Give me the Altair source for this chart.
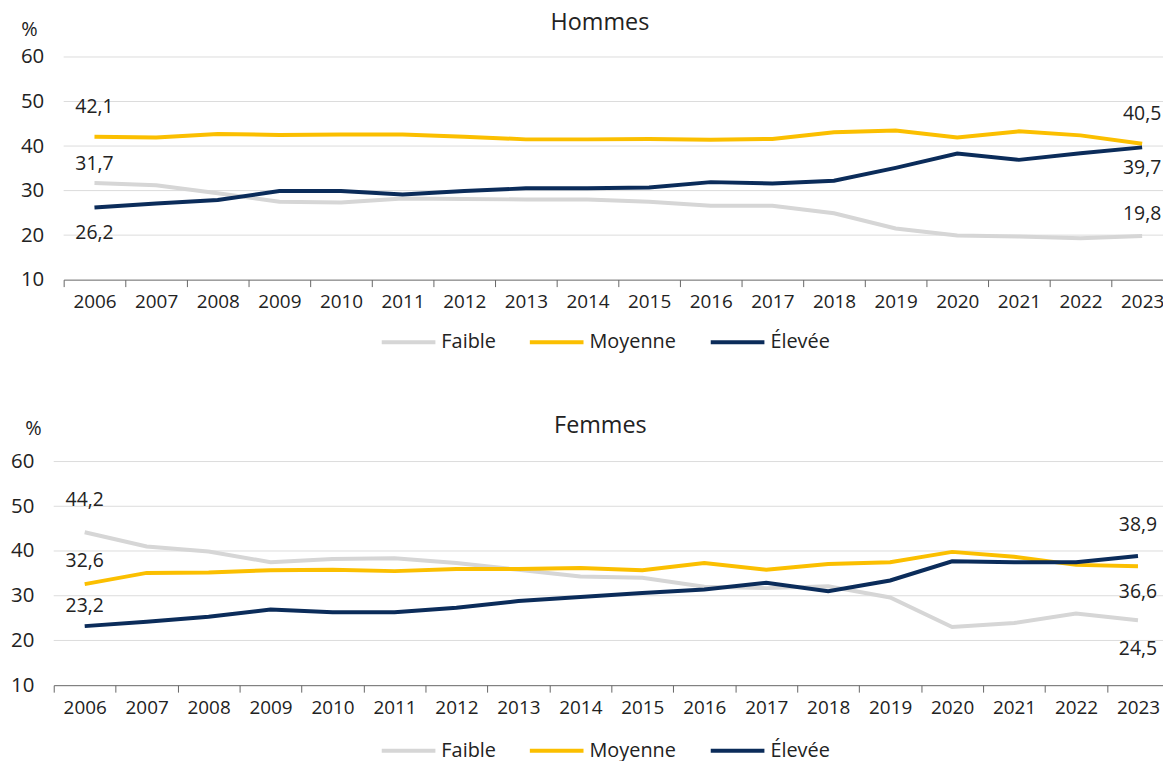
import altair as alt
import pandas as pd

# ---------------- data ----------------
years = ["2006", "2007", "2008", "2009", "2010", "2011", "2012", "2013", "2014",
         "2015", "2016", "2017", "2018", "2019", "2020", "2021", "2022", "2023"]
series = ["Faible", "Moyenne", "Élevée"]

hommes_faible = [31.7, 31.2, 29.4, 27.5, 27.3, 28.2, 28.1, 28.0, 28.0, 27.5, 26.6, 26.6, 24.9, 21.5, 19.9, 19.7, 19.3, 19.8]
hommes_moyenne = [42.1, 41.9, 42.7, 42.5, 42.6, 42.6, 42.1, 41.5, 41.5, 41.6, 41.4, 41.6, 43.1, 43.5, 41.9, 43.3, 42.4, 40.5]
hommes_elevee = [26.2, 27.1, 27.9, 29.9, 29.9, 29.1, 29.9, 30.5, 30.5, 30.7, 31.9, 31.6, 32.2, 35.1, 38.3, 36.9, 38.4, 39.7]

femmes_faible = [44.2, 41.0, 39.9, 37.5, 38.2, 38.4, 37.3, 35.8, 34.3, 34.0, 32.0, 31.7, 32.1, 29.6, 23.0, 23.9, 26.0, 24.5]
femmes_moyenne = [32.6, 35.1, 35.2, 35.7, 35.8, 35.5, 36.0, 36.0, 36.2, 35.7, 37.3, 35.8, 37.1, 37.5, 39.8, 38.7, 36.9, 36.6]
femmes_elevee = [23.2, 24.2, 25.3, 26.9, 26.3, 26.3, 27.3, 28.8, 29.7, 30.6, 31.4, 32.9, 31.0, 33.4, 37.7, 37.5, 37.5, 38.9]

y_ticks = [10, 20, 30, 40, 50, 60]
grid_ticks = [20, 30, 40, 50, 60]

# ---------------- style ----------------
COLORS = ["#d6d6d6", "#fbbf00", "#0b2c5a"]
FONT = "Open Sans"
TXT = "#222222"

# which end values are annotated, and their vertical offsets (style only)
top_labels = [("Moyenne", "2006", -30), ("Faible", "2006", -19), ("Élevée", "2006", 26),
              ("Moyenne", "2023", -30), ("Élevée", "2023", 21), ("Faible", "2023", -22)]
bot_labels = [("Faible", "2006", -32), ("Moyenne", "2006", -23), ("Élevée", "2006", -20),
              ("Élevée", "2023", -31), ("Moyenne", "2023", 26), ("Faible", "2023", 29)]


def frame(f, m, e):
    rows = []
    for name, vals in zip(series, [f, m, e]):
        for yr, v in zip(years, vals):
            rows.append({"year": yr, "serie": name, "value": v})
    return pd.DataFrame(rows)


def panel(title, df, labels, width, height, x_range, y_offset, title_dx, title_dy,
          pct_x, pct_y, legend_x, legend_y):
    x = alt.X("year:O", scale=alt.Scale(type="band", paddingInner=0, paddingOuter=0, range=x_range),
              axis=alt.Axis(title=None, tickBand="extent", labelAngle=0, labelFont=FONT,
                            labelFontSize=19, labelColor=TXT, domainColor="#666666",
                            tickColor="#666666", tickSize=7, labelPadding=6, grid=False))
    y_scale = alt.Scale(domain=[10, 60], nice=False, zero=False)
    y_axis = alt.Axis(values=y_ticks, title="%", titleAngle=0, titleX=pct_x, titleY=pct_y,
                      titleAlign="center", titleBaseline="middle", titleFont=FONT,
                      titleFontSize=20, titleFontWeight="normal", titleColor=TXT,
                      labelFont=FONT, labelFontSize=20.5, labelColor=TXT, labelPadding=20,
                      offset=y_offset, domain=False, ticks=False, grid=False)
    color = alt.Color("serie:N", scale=alt.Scale(domain=series, range=COLORS),
                      sort=series,
                      legend=alt.Legend(title=None, orient="none", legendX=legend_x, legendY=legend_y,
                                        direction="horizontal", symbolType="stroke",
                                        symbolSize=2916, symbolStrokeWidth=4, labelFont=FONT,
                                        labelFontSize=20, labelColor=TXT, columnPadding=26,
                                        labelOffset=4))
    # horizontal gridlines, positioned through the y scale
    grid = alt.Chart(pd.DataFrame({"g": grid_ticks})).mark_rule(color="#dcdcdc", strokeWidth=1).encode(
        y=alt.Y("g:Q", scale=y_scale, axis=y_axis, title="%"),
        x=alt.value(x_range[0]), x2=alt.value(width),
    )
    base = alt.Chart(df)
    lines = base.mark_line(strokeWidth=4).encode(
        x=x, y=alt.Y("value:Q", scale=y_scale, axis=y_axis, title="%"), color=color,
        order=alt.Order("year:O"),
        detail="serie:N",
    )
    layers = [grid]
    # draw order: Faible, Moyenne, Élevée
    for s in series:
        layers.append(lines.transform_filter(alt.datum.serie == s))
    for s, yr, dy in labels:
        layers.append(
            base.transform_filter((alt.datum.serie == s) & (alt.datum.year == yr))
            .transform_calculate(lbl="replace(format(datum.value, '.1f'), '.', ',')")
            .mark_text(dy=dy, font=FONT, fontSize=19.5, color=TXT, align="center", baseline="middle")
            .encode(x=alt.X("year:O"), y=alt.Y("value:Q"), text="lbl:N")
        )
    return alt.layer(*layers).properties(
        width=width, height=height,
        title=alt.TitleParams(title, font=FONT, fontSize=23.5, fontWeight="normal", color=TXT,
                              anchor="middle", dx=title_dx, dy=title_dy, offset=4),
    )


top = panel("Hommes", frame(hommes_faible, hommes_moyenne, hommes_elevee), top_labels,
            width=1116, height=224, x_range=[0, 1116], y_offset=0,
            title_dx=-18.5, title_dy=19, pct_x=-35, pct_y=-28,
            legend_x=318, legend_y=258)
bottom = panel("Femmes", frame(femmes_faible, femmes_moyenne, femmes_elevee), bot_labels,
               width=1112, height=225, x_range=[-10, 1112], y_offset=10,
               title_dx=-16, title_dy=23, pct_x=-21, pct_y=-33,
               legend_x=318, legend_y=262)

chart = alt.vconcat(top, bottom, spacing=62).properties(
    padding={"left": 2, "top": 0, "right": -16, "bottom": 0},
).configure_view(stroke=None).resolve_scale(color="independent")

chart.save("out.html", embed_options={"renderer": "svg", "actions": False})
